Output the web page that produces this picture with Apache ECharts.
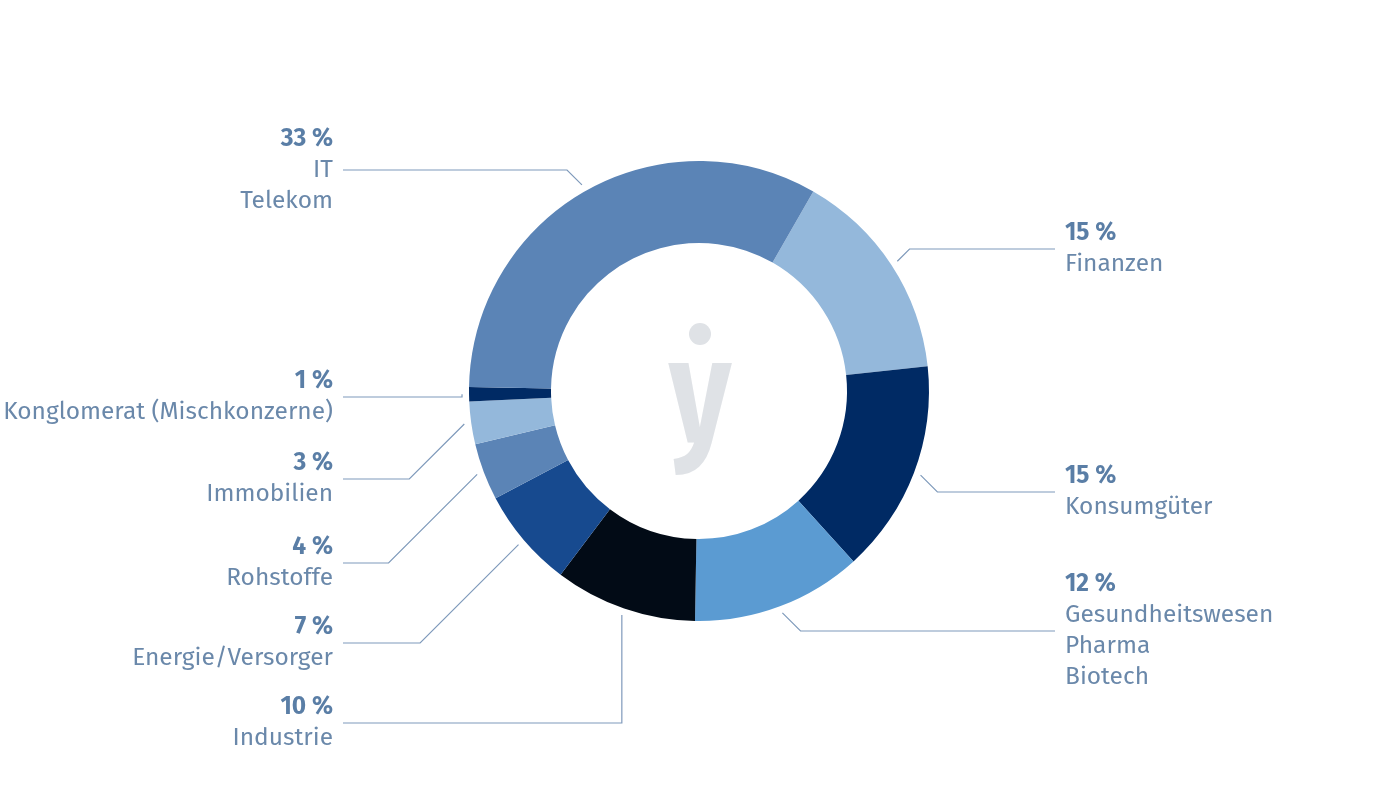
<!DOCTYPE html>
<html><head><meta charset="utf-8">
<script src="https://cdn.jsdelivr.net/npm/echarts@6/dist/echarts.min.js"></script>
<style>html,body{margin:0;padding:0;background:#fff}#c{width:1400px;height:788px}</style>
</head><body><div id="c"></div>
<script>
const categories = ['Finanzen','Konsumgüter','Gesundheitswesen\nPharma\nBiotech','Industrie','Energie/Versorger','Rohstoffe','Immobilien','Konglomerat (Mischkonzerne)','IT\nTelekom'];
const values = [15,15,12,10,7,4,3,1,33];
const colors = ['#94b8db','#002a64','#5b9bd2','#020b16','#174a8f','#5b84b6','#94b8db','#002a64','#5b84b6'];
// layout: label vertical centre per slice and side
const labelY = [249,492,631,723,643,563,479,397,170];
const side = [1,1,1,-1,-1,-1,-1,-1,-1];

const CX=699, CY=391, R=237, START=60.2;
const total = values.reduce((a,b)=>a+b,0);
function midAngle(i){
  let s=0; for(let k=0;k<i;k++) s+=values[k];
  const deg = START - (s+values[i]/2)/total*360;
  return deg*Math.PI/180;
}
const chart = echarts.init(document.getElementById('c'));
chart.setOption({
  animation:false,
  graphic:[
    {type:'circle',shape:{cx:700,cy:334,r:11},style:{fill:'#dfe2e6'}},
    {type:'text',x:700,y:400,scaleX:0.8,style:{text:'y',fontSize:150,fontWeight:'bold',fontFamily:'Fira Sans, Noto Sans',fill:'#dfe2e6',align:'center',verticalAlign:'middle'}}
  ],
  series:[{
    type:'pie', center:[CX,CY], radius:[148,230], startAngle:START, clockwise:true,
    data: categories.map((c,i)=>({name:c,value:values[i],itemStyle:{color:colors[i]}})),
    label:{show:true, fontFamily:'Fira Sans, Open Sans, Noto Sans',
      formatter:p=>'{b|'+p.value+' %}\n'+p.name.split('\n').map(s=>'{n|'+s+'}').join('\n'),
      rich:{b:{fontSize:24.5,fontWeight:'bold',color:'#5a7ea6',lineHeight:31,fontFamily:'Fira Sans, Open Sans'},
            n:{fontSize:24.5,color:'#6a88aa',lineHeight:31,fontFamily:'Fira Sans, Open Sans'}}},
    labelLine:{show:true,lineStyle:{color:'#7f9abb',width:1.2}},
    labelLayout:function(params){
      const i=params.dataIndex; const a=midAngle(i);
      const sx=CX+R*Math.cos(a), sy=CY-R*Math.sin(a);
      const y=labelY[i];
      let bx;
      if(i===3||i===7) bx=sx;
      else if(side[i]===1) bx=sx+Math.abs(y-sy);
      else bx=sx-Math.abs(y-sy);
      const ex = side[i]===1?1055:343;
      return {x: side[i]===1?1065:333, y:y, align: side[i]===1?'left':'right', verticalAlign:'middle',
        labelLinePoints:[[sx,sy],[bx,y],[ex,y]]};
    }
  }]
});
</script></body></html>
